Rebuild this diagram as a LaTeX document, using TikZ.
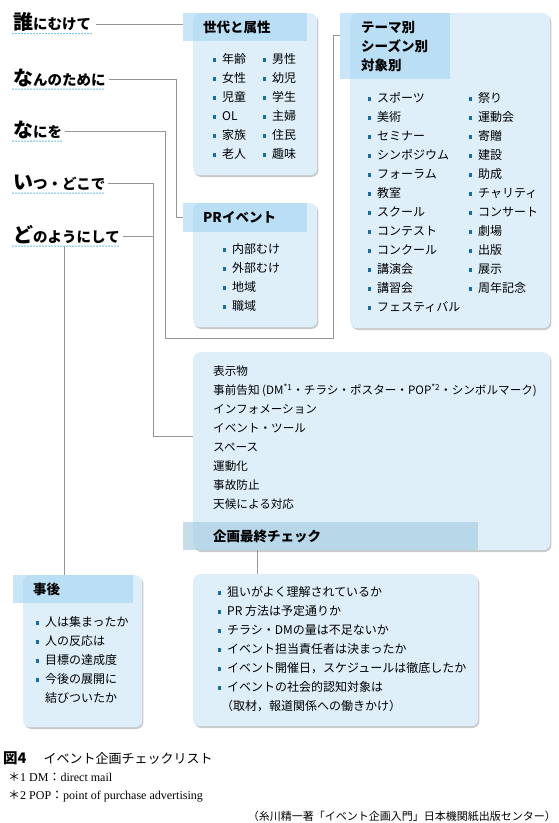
\documentclass[tikz,border=0pt]{standalone}
\usepackage{fontspec}
\setmainfont{Liberation Serif}
\newfontfamily\jp{Noto Sans CJK JP}
\usepackage{tikz}
\usetikzlibrary{positioning,shadows,calc}

\definecolor{boxblue}{RGB}{222,239,250}
\definecolor{bandblue}{RGB}{163,213,243}
\definecolor{bandgray}{RGB}{160,200,220}
\definecolor{linegray}{RGB}{150,150,150}
\definecolor{dotblue}{RGB}{20,110,165}
\definecolor{ulblue}{RGB}{40,160,230}

\tikzset{
  panel/.style={fill=boxblue, rounded corners=7pt, anchor=north west, inner sep=0pt,
    drop shadow={shadow xshift=1.2pt, shadow yshift=-1.8pt, opacity=0.35, fill=black!60}},
  band/.style={fill=bandblue, fill opacity=0.6, text opacity=1, anchor=north west,
    inner ysep=0pt, align=left, font=\jp\bfseries\fontsize{13.5}{19}\selectfont},
  dot/.style={fill=dotblue, minimum size=3.2pt, inner sep=0pt, xshift=-5.5pt},
  plain/.style={anchor=west, inner sep=0pt, text height=0.85em, text depth=0.15em,
    font=\jp\fontsize{12}{19}\selectfont},
  item/.style={plain, label={[dot]left:}},
  qlabel/.style={anchor=base west, inner xsep=0pt, inner ysep=4pt, text depth=0pt,
    font=\jp\bfseries\fontsize{14.5}{20}\selectfont},
  dotline/.style={draw=ulblue, line width=1.5pt, line cap=round, dash pattern=on 0pt off 3pt},
  link/.style={draw=linegray, line width=0.7pt}
}
\newcommand{\bigc}[1]{{\fontsize{20}{20}\selectfont #1}}

\begin{document}
\begin{tikzpicture}[x=1pt,y=-1pt]
  \useasboundingbox (0,0) rectangle (559,823);

  % questions on the left
  \node[qlabel] (who)  at (13,29.5) {\bigc{誰}にむけて};
  \node[qlabel] (why)  at (13,85)   {\bigc{な}んのために};
  \node[qlabel] (what) at (13,137)  {\bigc{な}にを};
  \node[qlabel] (when) at (13,189)  {\bigc{い}つ・どこで};
  \node[qlabel] (how)  at (13,242)  {\bigc{ど}のようにして};
  \foreach \q in {who,why,what,when,how}
    \draw[dotline] (\q.south west) -- (\q.south east);

  % panels
  \node[panel, minimum width=124pt, minimum height=162pt] (genpanel)   at (193,13)  {};
  \node[panel, minimum width=200pt, minimum height=315pt] (themepanel) at (350,13)  {};
  \node[panel, minimum width=124pt, minimum height=124pt] (prpanel)    at (193,203) {};
  \node[panel, minimum width=357pt, minimum height=198pt] (mainpanel)  at (193,352) {};
  \node[panel, minimum width=119pt, minimum height=152pt] (afterpanel) at (23,575)  {};
  \node[panel, minimum width=285pt, minimum height=152pt] (checkpanel) at (193,574) {};

  % header bands
  \node[band, minimum width=124pt, minimum height=28pt, text width=84pt, inner xsep=20pt] (genhd) at (183,13) {世代と属性};
  \node[band, minimum width=110pt, minimum height=66pt, text width=68pt, inner xsep=21pt] (themehd) at (340,13) {テーマ別\\シーズン別\\対象別};
  \node[band, minimum width=124pt, minimum height=29pt, text width=84pt, inner xsep=20pt] (prhd) at (183,203) {PRイベント};
  \node[band, fill=bandgray, minimum width=295pt, minimum height=28pt, text width=235pt, inner xsep=30pt] (mainhd) at (183,522) {企画最終チェック};
  \node[band, minimum width=120pt, minimum height=28pt, text width=80pt, inner xsep=20pt] (afterhd) at (13,575) {事後};

  % connectors
  \coordinate (themein) at (340,35);
  \coordinate (bus) at (153,436);
  \coordinate (howfoot) at ([xshift=51pt]how.south west);
  \coordinate (mainfoot) at ([xshift=74pt]mainhd.south west);
  \draw[link] ([shift={(5pt,5.5pt)}]who.base east) -- ([yshift=5.5pt]who.base east -| genhd.west);
  \draw[link] ([shift={(3pt,5.5pt)}]why.base east) -| ($(prhd.west)+(-7,0)$) -- (prhd.west);
  \draw[link] ([shift={(3pt,5.5pt)}]what.base east) -| (165,338) -| (333,35) -- (themein);
  \draw[link] ([shift={(3pt,5.5pt)}]when.base east) -| (bus) -- (bus -| mainpanel.west);
  \draw[link] ([shift={(3pt,5.5pt)}]how.base east) -- ([yshift=5.5pt]how.base east -| bus);
  \draw[link] (howfoot) -- (howfoot |- afterhd.north);
  \draw[link] (mainfoot) -- (mainfoot |- checkpanel.north);

  % generation and attributes
  \foreach \t [count=\i from 0] in {年齢,女性,児童,OL,家族,老人}
    \node[item] (gena\i) at (222,60+19*\i) {\t};
  \foreach \t [count=\i from 0] in {男性,幼児,学生,主婦,住民,趣味}
    \node[item] (genb\i) at (272,60+19*\i) {\t};

  % themes
  \foreach \t [count=\i from 0] in {スポーツ,美術,セミナー,シンポジウム,フォーラム,教室,スクール,コンテスト,コンクール,講演会,講習会,フェスティバル}
    \node[item] (tha\i) at (377,99+19*\i) {\t};
  \foreach \t [count=\i from 0] in {祭り,運動会,寄贈,建設,助成,チャリティ,コンサート,劇場,出版,展示,周年記念}
    \node[item] (thb\i) at (478,99+19*\i) {\t};

  % PR event
  \foreach \t [count=\i from 0] in {内部むけ,外部むけ,地域,職域}
    \node[item] (pr\i) at (232,250+19*\i) {\t};

  % main list
  \foreach \t [count=\i from 0] in {表示物,事前告知 (DM\textsuperscript{*1}・チラシ・ポスター・POP\textsuperscript{*2}・シンボルマーク),インフォメーション,イベント・ツール,スペース,運動化,事故防止,天候による対応}
    \node[plain, font=\jp\fontsize{11.6}{19}\selectfont] (mn\i) at (213,372+19*\i) {\t};

  % afterwards
  \foreach \t [count=\i from 0] in {人は集まったか,人の反応は,目標の達成度,今後の展開に}
    \node[item] (af\i) at (45,623+19*\i) {\t};
  \node[plain] (af4) at (45,699) {結びついたか};

  % final check
  \foreach \t [count=\i from 0] in {狙いがよく理解されているか,PR 方法は予定通りか,チラシ・DMの量は不足ないか,イベント担当責任者は決まったか,イベント開催日，スケジュールは徹底したか,イベントの社会的認知対象は}
    \node[item] (ck\i) at (227,593+19*\i) {\t};
  \node[plain] (ck6) at (221,707) {（取材，報道関係への働きかけ）};

  % caption and notes
  \node[anchor=west, inner sep=0pt, font=\jp\fontsize{13}{13}\selectfont] (cap) at (3,758)
    {{\bfseries\fontsize{14.5}{14}\selectfont 図4}\hspace{17pt}イベント企画チェックリスト};
  \node[anchor=west, inner sep=0pt, font=\fontsize{12}{12}\selectfont] (fna) at (8,777) {{\jp ＊}1 DM{\jp ：}direct mail};
  \node[anchor=west, inner sep=0pt, font=\fontsize{12}{12}\selectfont] (fnb) at (8,796) {{\jp ＊}2 POP{\jp ：}point of purchase advertising};
  \node[anchor=east, inner sep=0pt, font=\jp\fontsize{11}{11}\selectfont] (src) at (556,816) {（糸川精一著「イベント企画入門」日本機関紙出版センター）};
\end{tikzpicture}
\end{document}
